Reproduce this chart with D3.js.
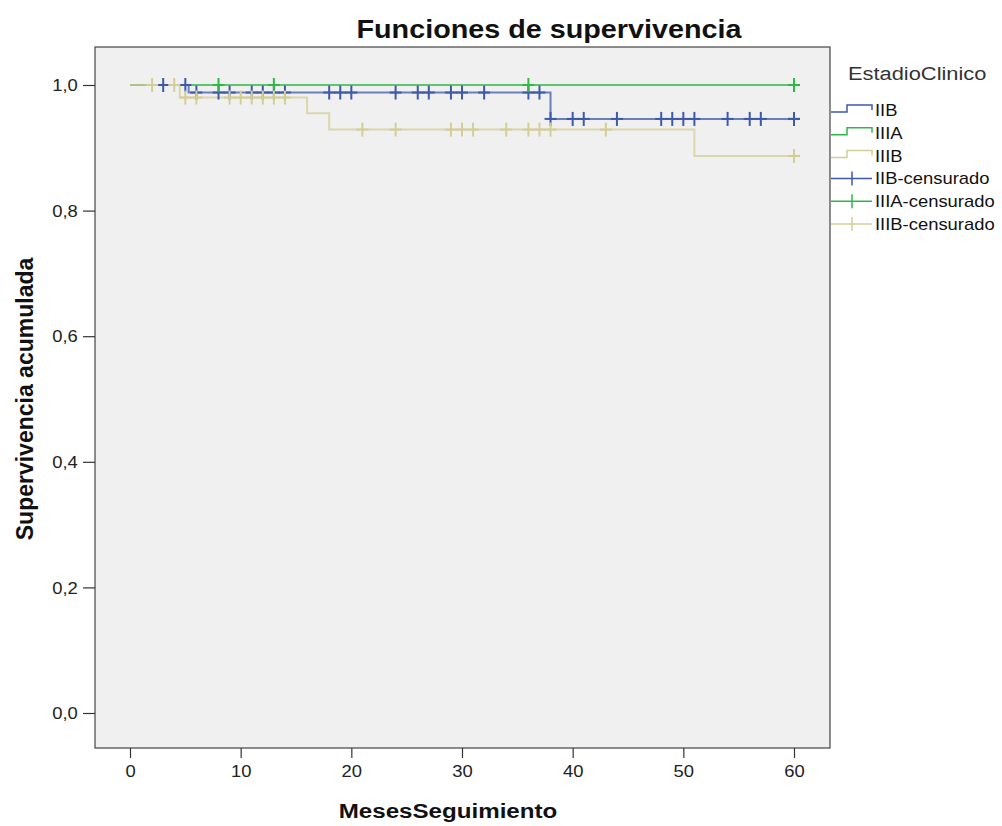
<!DOCTYPE html>
<html><head><meta charset="utf-8">
<script src="https://cdn.jsdelivr.net/npm/d3@7"></script>
<style>
html,body{margin:0;padding:0;background:#fff;}
svg text{font-family:"Liberation Sans",Arial,sans-serif;}
</style></head>
<body><svg id="c" width="1002" height="826"></svg>
<script>
// ---- data ----
const seriesNames = ["IIB", "IIIA", "IIIB"];
const seriesColors = ["#3E58AC", "#2EB848", "#D3CE97"];
// step points: event times and survival after each event
const iibTimes = [0, 5.3, 38];
const iibSurv  = [1.0, 0.988, 0.946];
const iiiaTimes = [0];
const iiiaSurv  = [1.0];
const iiibTimes = [0, 4.5, 16, 18, 51];
const iiibSurv  = [1.0, 0.980, 0.955, 0.929, 0.887];
// censored times
const iibCens  = [3, 5, 6, 8, 9, 11, 12, 13, 14, 18, 19, 20, 24, 26, 27, 29, 30, 32, 36, 37, 38, 40, 41, 44, 48, 49, 50, 51, 54, 56, 57, 60, 60];
const iiiaCens = [8, 13, 36, 60];
const iiibCens = [2, 4, 5, 6, 9, 10, 11, 12, 13, 14, 21, 24, 29, 30, 31, 34, 36, 37, 38, 43, 60, 60];
const xTicks = [0, 10, 20, 30, 40, 50, 60];
const yTicks = [0, 0.2, 0.4, 0.6, 0.8, 1.0];
const maxTime = 60;
const titleText = "Funciones de supervivencia";
const xTitle = "MesesSeguimiento";
const yTitle = "Supervivencia acumulada";
const legendTitle = "EstadioClinico";
const legendLabels = ["IIB", "IIIA", "IIIB", "IIB-censurado", "IIIA-censurado", "IIIB-censurado"];

const series = [
  {times: iibTimes, surv: iibSurv, cens: iibCens},
  {times: iiiaTimes, surv: iiiaSurv, cens: iiiaCens},
  {times: iiibTimes, surv: iiibSurv, cens: iiibCens}
];

// ---- layout ----
const SX = 1.15;
const svg = d3.select("#c");
const plot = {left: 95, right: 830, top: 47, bottom: 748};
const x = d3.scaleLinear().domain([0, 60]).range([130, 794]);
const y = d3.scaleLinear().domain([0, 1]).range([713, 85]);

svg.append("rect").attr("x", plot.left).attr("y", plot.top)
  .attr("width", plot.right - plot.left).attr("height", plot.bottom - plot.top)
  .attr("fill", "#F0F0F0").attr("stroke", "#444").attr("stroke-width", 1.2);

function stext(sel, x0, y0, txt, size, weight, anchor, sx) {
  return sel.append("text").attr("transform", `translate(${x0},${y0}) scale(${sx},1)`)
    .attr("text-anchor", anchor).attr("font-size", size).attr("font-weight", weight)
    .attr("fill", "#111").text(txt);
}

// axes
const yAxis = svg.append("g").attr("transform", `translate(${plot.left},0)`)
  .call(d3.axisLeft(y).tickValues(yTicks).tickSize(12).tickPadding(3)
    .tickFormat(d => d3.format(".1f")(d).replace(".", ",")));
yAxis.select(".domain").remove();
yAxis.selectAll(".tick line").attr("stroke", "#333").attr("stroke-width", 1.2);
yAxis.selectAll(".tick text").attr("font-size", 16).attr("fill", "#222")
  .attr("font-family", "Liberation Sans, Arial, sans-serif")
  .attr("transform", `scale(${SX},1)`).attr("dy", "0.36em");

const xAxis = svg.append("g").attr("transform", `translate(0,${plot.bottom})`)
  .call(d3.axisBottom(x).tickValues(xTicks).tickSize(10).tickPadding(8).tickFormat(d3.format("d")));
xAxis.select(".domain").remove();
xAxis.selectAll(".tick line").attr("stroke", "#333").attr("stroke-width", 1.2);
xAxis.selectAll(".tick text").attr("font-size", 16).attr("fill", "#222")
  .attr("font-family", "Liberation Sans, Arial, sans-serif")
  .attr("transform", `scale(${SX},1)`);

// titles
stext(svg, 549, 38, titleText, 25, "bold", "middle", SX);
stext(svg, 448, 818, xTitle, 21, "bold", "middle", SX);
svg.append("text").attr("transform", "translate(33,399) rotate(-90)")
  .attr("text-anchor", "middle").attr("font-size", 23).attr("font-weight", "bold")
  .attr("fill", "#111").text(yTitle);

// curves
function survAt(s, t) {
  let v = s.surv[0];
  for (let i = 0; i < s.times.length; i++) if (s.times[i] <= t) v = s.surv[i];
  return v;
}
const line = d3.line().x(d => x(d[0])).y(d => y(d[1])).curve(d3.curveStepAfter);
series.forEach((s, i) => {
  const pts = s.times.map((t, k) => [t, s.surv[k]]);
  pts.push([maxTime, s.surv[s.surv.length - 1]]);
  svg.append("path").attr("d", line(pts)).attr("fill", "none")
    .attr("stroke", seriesColors[i]).attr("stroke-width", 2).attr("stroke-opacity", 0.75);
});
series.forEach((s, i) => {
  const g = svg.append("g").attr("stroke", seriesColors[i]).attr("stroke-width", 2);
  s.cens.forEach(t => {
    const cx = x(t), cy = y(survAt(s, t));
    g.append("line").attr("x1", cx).attr("x2", cx).attr("y1", cy - 7).attr("y2", cy + 7);
    g.append("line").attr("x1", cx - 6).attr("x2", cx + 6).attr("y1", cy).attr("y2", cy);
  });
});

// legend
const lg = svg.append("g");
stext(lg, 848, 80, legendTitle, 19, "normal", "start", SX).attr("fill", "#333");
const rowY = d3.range(6).map(i => 110 + i * 22.8);
legendLabels.forEach((lab, i) => {
  const cy = rowY[i];
  const col = seriesColors[i % 3];
  if (i < 3) {
    lg.append("path").attr("d", `M831,${cy + 2}H847V${cy - 5}H872V${cy}`)
      .attr("fill", "none").attr("stroke", col).attr("stroke-width", 1.5);
  } else {
    lg.append("line").attr("x1", 831).attr("x2", 872).attr("y1", cy).attr("y2", cy)
      .attr("stroke", col).attr("stroke-width", 1.5);
    lg.append("line").attr("x1", 852).attr("x2", 852).attr("y1", cy - 7).attr("y2", cy + 7)
      .attr("stroke", col).attr("stroke-width", 1.5);
  }
  stext(lg, 875, cy + 6, lab, 16, "normal", "start", SX).attr("fill", "#111");
});
</script></body></html>
